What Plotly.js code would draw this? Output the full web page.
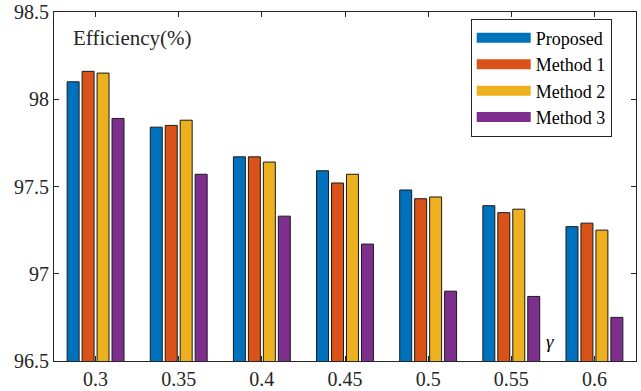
<!DOCTYPE html>
<html>
<head>
<meta charset="utf-8">
<script src="https://cdn.plot.ly/plotly-3.0.1.min.js"></script>
<style>html,body{margin:0;padding:0;background:#fff;}#chart{width:641px;height:391px;}</style>
</head>
<body>
<div id="chart"></div>
<script>
const categories = ["0.3", "0.35", "0.4", "0.45", "0.5", "0.55", "0.6"];
const proposed = [98.10, 97.84, 97.67, 97.59, 97.48, 97.39, 97.27];
const method1  = [98.16, 97.85, 97.67, 97.52, 97.43, 97.35, 97.29];
const method2  = [98.15, 97.88, 97.64, 97.57, 97.44, 97.37, 97.25];
const method3  = [97.89, 97.57, 97.33, 97.17, 96.90, 96.87, 96.75];
const seriesNames = ["Proposed", "Method 1", "Method 2", "Method 3"];
const yTicks = [96.5, 97, 97.5, 98, 98.5];

const colors = ["#0072BD", "#D95319", "#EDB120", "#7E2F8E"];
const seriesData = [proposed, method1, method2, method3];
const axisColor = "#262626";
const fontFam = "Times New Roman";

const bars = seriesData.map((vals, i) => ({
  type: "bar",
  name: seriesNames[i],
  legendgroup: "g" + i,
  showlegend: false,
  x: categories,
  y: vals,
  marker: {color: colors[i], line: {color: "#1a1a1a", width: 1}},
  hoverinfo: "x+y+name"
}));
// legend-only entries drawn as wide swatches
const keys = seriesNames.map((nm, i) => ({
  type: "scatter",
  mode: "lines",
  name: nm,
  legendgroup: "g" + i,
  x: [null], y: [null],
  line: {color: colors[i], width: 12},
  hoverinfo: "skip"
}));

const layout = {
  width: 641, height: 391,
  margin: {l: 54, r: 5, t: 12, b: 30, pad: 0},
  paper_bgcolor: "#ffffff",
  plot_bgcolor: "#ffffff",
  barmode: "group",
  bargap: 0.28,
  bargroupgap: 0.2,
  font: {family: fontFam, color: axisColor, size: 20},
  xaxis: {
    type: "category",
    range: [-0.5, 6.5],
    showline: true, mirror: "ticks", linecolor: axisColor, linewidth: 1,
    ticks: "inside", ticklen: 5, tickcolor: axisColor, tickwidth: 1,
    showgrid: false, zeroline: false,
    tickfont: {family: fontFam, size: 20, color: axisColor}
  },
  yaxis: {
    range: [96.5, 98.5],
    tickvals: yTicks,
    ticktext: yTicks.map(String),
    showline: true, mirror: "ticks", linecolor: axisColor, linewidth: 1,
    ticks: "inside", ticklen: 5, tickcolor: axisColor, tickwidth: 1,
    showgrid: false, zeroline: false,
    tickfont: {family: fontFam, size: 20, color: axisColor}
  },
  legend: {
    x: 0.716, y: 0.981, xanchor: "left", yanchor: "top",
    bgcolor: "#ffffff", bordercolor: axisColor, borderwidth: 1,
    font: {family: fontFam, size: 18, color: "#000000"},
    tracegroupgap: 0, traceorder: "normal",
    itemwidth: 54
  },
  annotations: [
    {text: "Efficiency(%)", xref: "paper", yref: "paper", x: 0.03, y: 0.925,
     xanchor: "left", yanchor: "middle", showarrow: false,
     font: {family: fontFam, size: 21, color: axisColor}},
    {text: "<i>γ</i>", xref: "paper", yref: "paper", x: 0.852, y: 0.055,
     xanchor: "center", yanchor: "middle", showarrow: false,
     font: {family: fontFam, size: 19, color: "#000000"}}
  ],
  showlegend: true
};

Plotly.newPlot("chart", bars.concat(keys), layout, {displayModeBar: false, staticPlot: true});
</script>
</body>
</html>
